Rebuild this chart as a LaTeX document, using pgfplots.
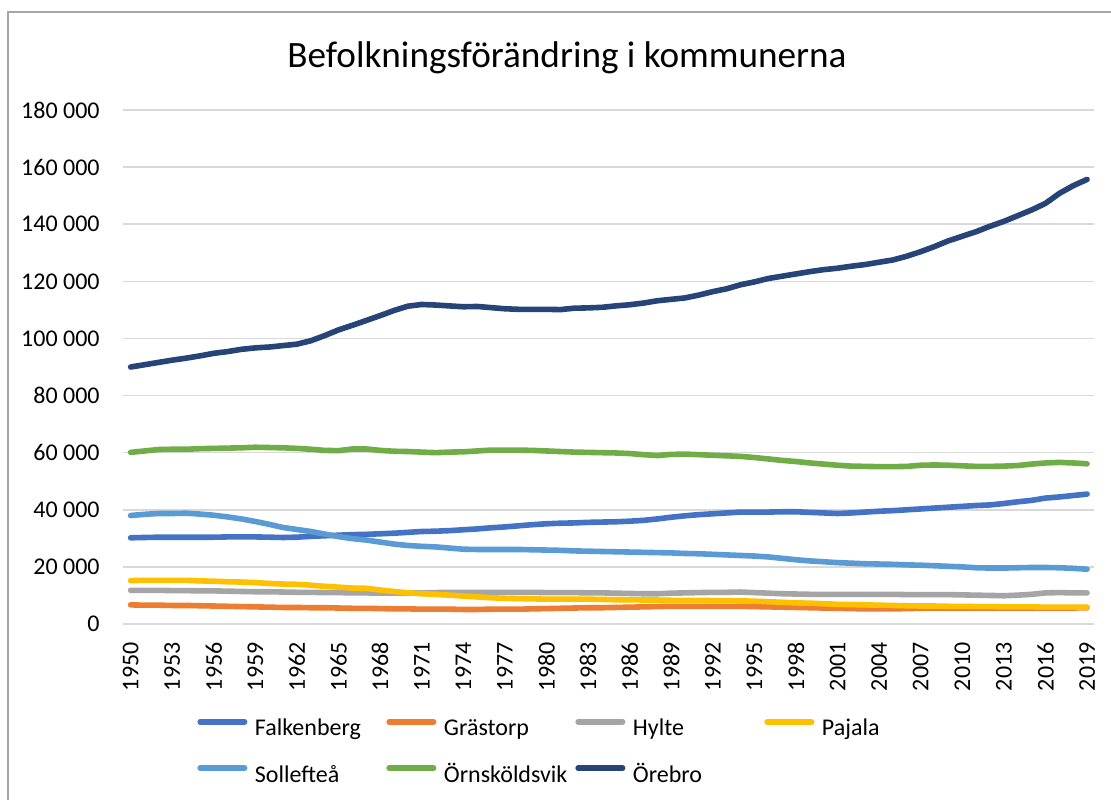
\documentclass[border=0pt]{standalone}
\usepackage{pgfplots}
\pgfplotsset{compat=1.18}
\usepackage{pgfplotstable}
\usepackage{fontspec}
\setmainfont{Carlito}
\definecolor{cFalk}{HTML}{4472C4}
\definecolor{cGras}{HTML}{ED7D31}
\definecolor{cHylte}{HTML}{A5A5A5}
\definecolor{cPaj}{HTML}{FFC000}
\definecolor{cSoll}{HTML}{5B9BD5}
\definecolor{cOrnsk}{HTML}{70AD47}
\definecolor{cOreb}{HTML}{264478}
\definecolor{cGrid}{HTML}{D9D9D9}
\definecolor{cBorder}{HTML}{A6A6A6}
\pgfplotstableread{
year Falk Gras Hylte Pajala Soll Ornsk Orebro
1950 30200 6700 11800 15200 38000 60100 90000
1951 30300 6600 11800 15300 38400 60600 90800
1952 30400 6600 11800 15300 38700 61100 91600
1953 30400 6500 11700 15300 38700 61200 92400
1954 30400 6500 11700 15300 38800 61200 93100
1955 30400 6400 11600 15100 38500 61400 93900
1956 30400 6300 11600 15000 38100 61500 94800
1957 30500 6200 11500 14800 37500 61600 95400
1958 30500 6100 11400 14700 36800 61700 96200
1959 30500 6000 11300 14500 35900 61900 96700
1960 30400 5900 11300 14200 34900 61800 97000
1961 30300 5800 11200 14000 33800 61700 97500
1962 30400 5800 11100 13900 33100 61500 98000
1963 30700 5700 11100 13600 32400 61200 99200
1964 30900 5700 11000 13200 31500 60800 101000
1965 31100 5600 11000 12900 30600 60700 103000
1966 31300 5500 10900 12600 29900 61300 104600
1967 31400 5500 10900 12500 29400 61300 106300
1968 31600 5400 10800 11900 28700 60800 108000
1969 31800 5300 10800 11400 28000 60500 109800
1970 32100 5300 10800 10900 27500 60400 111300
1971 32400 5200 10900 10600 27200 60200 111900
1972 32500 5200 11000 10400 27000 60000 111700
1973 32700 5200 11100 10100 26600 60200 111400
1974 33000 5100 11100 9800 26200 60300 111100
1975 33300 5100 11100 9500 26100 60600 111200
1976 33700 5200 11100 9200 26100 60900 110800
1977 34000 5200 11100 9000 26100 60900 110400
1978 34400 5200 11100 8900 26100 60900 110200
1979 34800 5300 11100 8800 26000 60800 110200
1980 35100 5400 11000 8700 25900 60600 110200
1981 35300 5500 11000 8700 25800 60400 110100
1982 35400 5600 11000 8700 25600 60200 110600
1983 35600 5700 10900 8700 25500 60100 110700
1984 35700 5700 10900 8600 25400 60000 110900
1985 35800 5800 10800 8500 25300 59900 111400
1986 36000 5900 10700 8500 25200 59700 111800
1987 36300 6000 10600 8400 25100 59300 112400
1988 36800 6100 10600 8400 25000 59000 113200
1989 37400 6200 10800 8300 24900 59400 113700
1990 37900 6200 10900 8300 24700 59500 114200
1991 38300 6200 11000 8300 24600 59300 115200
1992 38600 6200 11100 8200 24400 59100 116400
1993 38900 6200 11100 8200 24200 58900 117400
1994 39200 6200 11200 8100 24000 58700 118800
1995 39200 6100 11000 8000 23800 58300 119800
1996 39200 6000 10800 7800 23500 57800 121000
1997 39300 5900 10600 7600 23000 57300 121800
1998 39300 5800 10500 7400 22500 56900 122600
1999 39100 5700 10400 7300 22100 56400 123400
2000 38900 5600 10400 7100 21800 56000 124100
2001 38700 5500 10400 6900 21500 55600 124600
2002 38900 5400 10400 6800 21300 55300 125300
2003 39200 5300 10400 6700 21100 55200 125900
2004 39500 5300 10400 6600 21000 55100 126700
2005 39700 5300 10400 6500 20900 55100 127500
2006 40000 5400 10300 6400 20700 55200 128800
2007 40300 5500 10300 6300 20600 55600 130400
2008 40600 5600 10300 6300 20400 55700 132200
2009 40900 5600 10300 6200 20200 55600 134200
2010 41200 5600 10200 6200 20000 55400 135800
2011 41500 5600 10100 6100 19700 55200 137400
2012 41700 5600 10000 6100 19600 55200 139300
2013 42200 5600 9900 6000 19600 55300 141000
2014 42800 5600 10100 6000 19700 55500 143000
2015 43300 5600 10400 6000 19800 56000 145000
2016 44100 5600 10900 5900 19800 56400 147300
2017 44500 5600 11000 5900 19700 56600 150800
2018 45000 5600 10900 5900 19500 56400 153500
2019 45500 5700 10900 5900 19200 56100 155700
}\datatable
\begin{document}
\begin{tikzpicture}
\useasboundingbox (0,0) rectangle (555.5pt,400pt);
\fill[white] (0,0) rectangle (555.5pt,400pt);
\draw[cBorder, line width=1pt] (3.85pt,0pt) -- (3.85pt,394pt) -- (555.5pt,394pt);
\node[font=\fontsize{18.6}{22}\selectfont, anchor=center] at (283.5pt,371pt) {Befolkningsförändring i kommunerna};
\begin{axis}[
  at={(61.5pt,88pt)}, anchor=south west,
  scale only axis, width=485.5pt, height=257pt,
  xmin=1949.45, xmax=2019.5, ymin=0, ymax=180000,
  clip=false,
  scaled y ticks=false, scaled x ticks=false,
  axis line style={draw=none},
  ymajorgrids, grid style={cGrid, line width=0.75pt},
  major tick length=0pt,
  ytick={0,20000,40000,60000,80000,100000,120000,140000,160000,180000},
  yticklabels={0,20 000,40 000,60 000,80 000,100 000,120 000,140 000,160 000,180 000},
  xtick={1950,1953,1956,1959,1962,1965,1968,1971,1974,1977,1980,1983,1986,1989,1992,1995,1998,2001,2004,2007,2010,2013,2016,2019},
  xticklabels={1950,1953,1956,1959,1962,1965,1968,1971,1974,1977,1980,1983,1986,1989,1992,1995,1998,2001,2004,2007,2010,2013,2016,2019},
  ticklabel style={font=\fontsize{12}{14}\selectfont, inner sep=0pt},
  xticklabel style={rotate=90, anchor=east},
  yticklabel style={anchor=east},
  xticklabel shift=9pt,
  yticklabel shift=11.5pt,
  legend columns=4,
  legend style={
    at={(0.070,-0.1653)}, anchor=north west,
    draw=none, fill=none,
    font=\fontsize{12}{14}\selectfont,
    row sep=9pt,
    nodes={inner sep=0pt, text height=8.5pt, text depth=3pt},
    /tikz/every odd column/.append style={column sep=3.8pt},
    /tikz/every even column/.append style={column sep=0pt},
  },
  legend image code/.code={
    \path[draw=none, fill=none] (0pt,-3pt) rectangle (25pt,8.5pt);
    \draw[#1, line cap=round] (1.4pt,4.3pt) -- (23.6pt,4.3pt);
  },
  every axis plot/.append style={line width=2.8pt, line join=round, line cap=round},
]
\draw[cGrid, line width=0.75pt] (axis cs:1949.45,0) -- (axis cs:2019.5,0);
\addplot[cFalk] table[x=year,y=Falk]{\datatable};
\addlegendentry{\makebox[65.7pt][l]{Falkenberg}}
\addplot[cGras] table[x=year,y=Gras]{\datatable};
\addlegendentry{\makebox[65.7pt][l]{Grästorp}}
\addplot[cHylte] table[x=year,y=Hylte]{\datatable};
\addlegendentry{\makebox[65.7pt][l]{Hylte}}
\addplot[cPaj] table[x=year,y=Pajala]{\datatable};
\addlegendentry{\makebox[65.7pt][l]{Pajala}}
\addplot[cSoll] table[x=year,y=Soll]{\datatable};
\addlegendentry{\makebox[65.7pt][l]{Sollefteå}}
\addplot[cOrnsk] table[x=year,y=Ornsk]{\datatable};
\addlegendentry{\makebox[65.7pt][l]{Örnsköldsvik}}
\addplot[cOreb] table[x=year,y=Orebro]{\datatable};
\addlegendentry{\makebox[65.7pt][l]{Örebro}}
\end{axis}
\end{tikzpicture}
\end{document}
